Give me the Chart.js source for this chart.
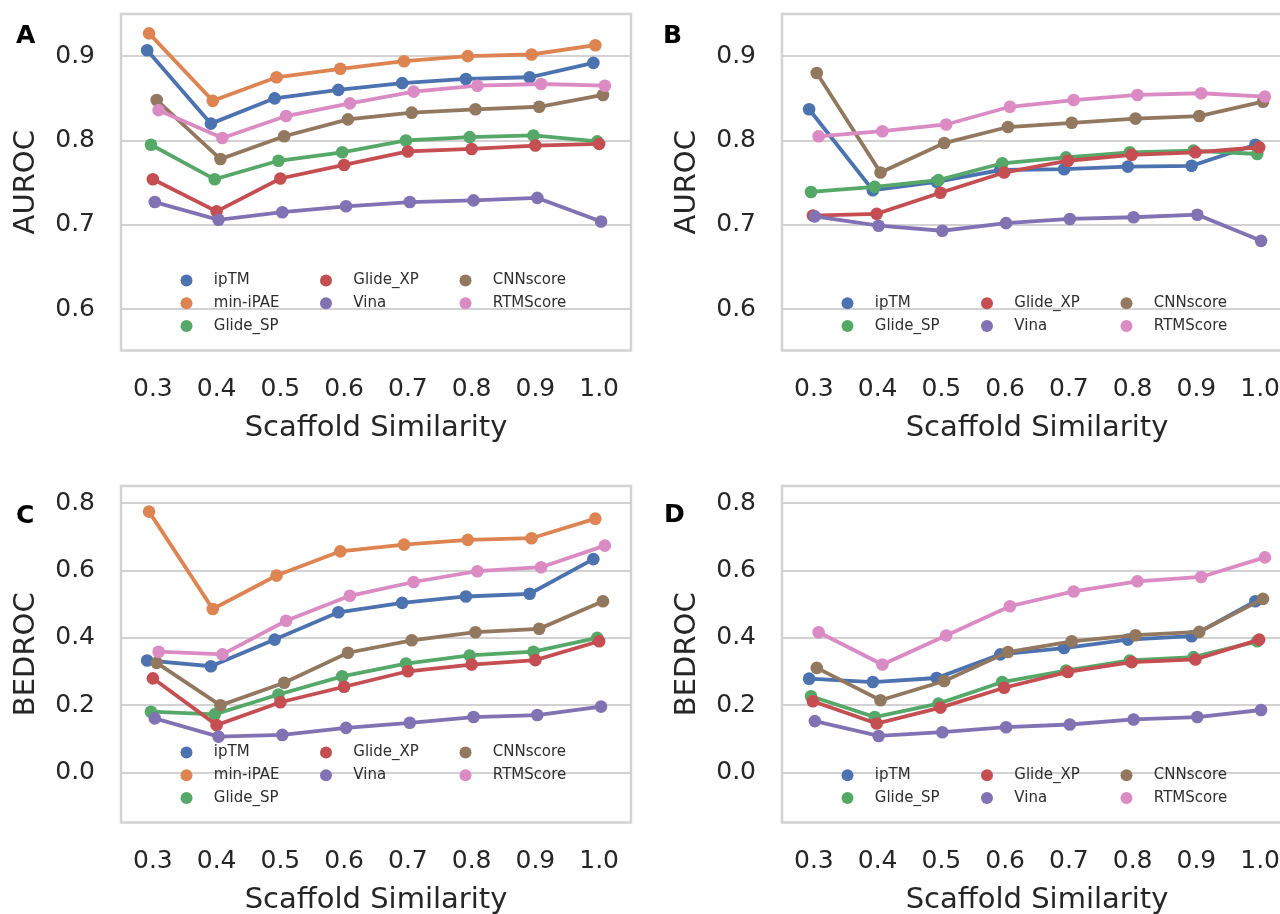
<!DOCTYPE html>
<html>
<head>
<meta charset="utf-8">
<script src="https://cdn.jsdelivr.net/npm/chart.js@4.4.1/dist/chart.umd.min.js"></script>
<style>
    html, body { margin: 0; padding: 0; background: #fff; }
    body { width: 1280px; height: 914px; overflow: hidden; position: relative; }
    canvas { position: absolute; }
    .tag { position: absolute; font: bold 25px "DejaVu Sans", sans-serif; line-height: 1; color: #000; }
</style>
</head>
<body>
<canvas id="panelA" width="640" height="480" style="left:0;top:0"></canvas>
<canvas id="panelB" width="640" height="480" style="left:661px;top:0"></canvas>
<canvas id="panelC" width="640" height="480" style="left:0;top:472px"></canvas>
<canvas id="panelD" width="640" height="480" style="left:661px;top:472px"></canvas>
<div class="tag" style="left:16px;top:22px">A</div>
<div class="tag" style="left:663px;top:22px">B</div>
<div class="tag" style="left:16px;top:502px">C</div>
<div class="tag" style="left:664px;top:501px">D</div>
<script>
// Data
const similarity = [0.3, 0.4, 0.5, 0.6, 0.7, 0.8, 0.9, 1.0];
const aurocTicks = [0.6, 0.7, 0.8, 0.9];
const bedrocTicks = [0.0, 0.2, 0.4, 0.6, 0.8];

// A - AUROC
const aIpTM     = [0.907, 0.820, 0.850, 0.860, 0.868, 0.873, 0.875, 0.892];
const aMinIPAE  = [0.927, 0.847, 0.875, 0.885, 0.894, 0.900, 0.902, 0.913];
const aGlideSP  = [0.795, 0.754, 0.776, 0.786, 0.800, 0.804, 0.806, 0.799];
const aGlideXP  = [0.754, 0.716, 0.755, 0.771, 0.787, 0.790, 0.794, 0.796];
const aVina     = [0.727, 0.706, 0.715, 0.722, 0.727, 0.729, 0.732, 0.704];
const aCNN      = [0.848, 0.778, 0.805, 0.825, 0.833, 0.837, 0.840, 0.854];
const aRTM      = [0.836, 0.803, 0.829, 0.844, 0.858, 0.865, 0.867, 0.865];

// B - AUROC
const bIpTM     = [0.837, 0.741, 0.751, 0.765, 0.766, 0.769, 0.770, 0.795];
const bGlideSP  = [0.739, 0.745, 0.753, 0.773, 0.780, 0.786, 0.788, 0.784];
const bGlideXP  = [0.711, 0.713, 0.738, 0.762, 0.776, 0.783, 0.786, 0.792];
const bVina     = [0.710, 0.699, 0.693, 0.702, 0.707, 0.709, 0.712, 0.681];
const bCNN      = [0.880, 0.762, 0.797, 0.816, 0.821, 0.826, 0.829, 0.846];
const bRTM      = [0.805, 0.811, 0.819, 0.840, 0.848, 0.854, 0.856, 0.852];

// C - BEDROC
const cIpTM     = [0.333, 0.316, 0.395, 0.476, 0.504, 0.523, 0.531, 0.634];
const cMinIPAE  = [0.775, 0.486, 0.585, 0.657, 0.677, 0.691, 0.696, 0.754];
const cGlideSP  = [0.181, 0.173, 0.232, 0.286, 0.324, 0.348, 0.359, 0.400];
const cGlideXP  = [0.280, 0.141, 0.209, 0.255, 0.301, 0.321, 0.334, 0.390];
const cVina     = [0.161, 0.107, 0.112, 0.133, 0.148, 0.165, 0.171, 0.196];
const cCNN      = [0.326, 0.200, 0.267, 0.356, 0.393, 0.417, 0.427, 0.509];
const cRTM      = [0.359, 0.351, 0.451, 0.525, 0.566, 0.598, 0.610, 0.674];

// D - BEDROC
const dIpTM     = [0.279, 0.269, 0.281, 0.351, 0.370, 0.395, 0.405, 0.509];
const dGlideSP  = [0.227, 0.165, 0.205, 0.269, 0.303, 0.333, 0.343, 0.390];
const dGlideXP  = [0.212, 0.146, 0.193, 0.252, 0.299, 0.328, 0.336, 0.395];
const dVina     = [0.153, 0.109, 0.120, 0.135, 0.143, 0.158, 0.165, 0.186];
const dCNN      = [0.311, 0.215, 0.272, 0.358, 0.390, 0.408, 0.418, 0.516];
const dRTM      = [0.417, 0.321, 0.407, 0.494, 0.538, 0.568, 0.581, 0.639];

const colors = {
    'ipTM': '#4C72B0', 'min-iPAE': '#DD8452', 'Glide_SP': '#55A868', 'Glide_XP': '#C44E52',
    'Vina': '#8172B3', 'CNNscore': '#937860', 'RTMScore': '#DA8BC3'
};

Chart.defaults.font.family = '"DejaVu Sans", sans-serif';
Chart.defaults.color = '#262626';

// light grey frame around the plot area
const frame = {
    id: 'frame',
    beforeDatasetsDraw(chart) {
        const { ctx, chartArea: a } = chart;
        ctx.save();
        ctx.strokeStyle = '#d2d2d2';
        ctx.lineWidth = 2.5;
        ctx.strokeRect(a.left, a.top, a.right - a.left, a.bottom - a.top);
        ctx.restore();
    }
};

// matplotlib-like legend: 3 columns filled column by column, first columns get the extras
const dotLegend = {
    id: 'dotLegend',
    afterDatasetsDraw(chart) {
        const { ctx, chartArea: a } = chart;
        const sets = chart.data.datasets;
        const cols = 3;
        const base = Math.floor(sets.length / cols), extra = sets.length % cols;
        const rows = Math.ceil(sets.length / cols);
        ctx.save();
        ctx.font = '15px "DejaVu Sans"';
        ctx.textBaseline = 'middle';
        let k = 0;
        for (let c = 0; c < cols; c++) {
            const count = base + (c < extra ? 1 : 0);
            for (let r = 0; r < count; r++, k++) {
                const ds = sets[k];
                const x = a.left + 65.5 + c * 139.5;
                const y = a.top + 312 - (rows - 1 - r) * 22.7;
                ctx.fillStyle = ds.borderColor;
                ctx.beginPath();
                ctx.arc(x, y, 6, 0, Math.PI * 2);
                ctx.fill();
                ctx.fillStyle = '#2e2e2e';
                ctx.fillText(ds.label, x + 27.3, y);
            }
        }
        ctx.restore();
    }
};

function makePanel(id, yTitle, yMin, yMax, yTicks, series) {
    const n = series.length;
    const datasets = series.map(([label, values], i) => {
        const shift = (i - (n - 1) / 2) * 0.003;
        return {
            label,
            data: values.map((v, k) => ({ x: similarity[k] + shift, y: v })),
            borderColor: colors[label],
            backgroundColor: colors[label],
            borderWidth: 3.8,
            pointRadius: 6.3,
            pointBorderWidth: 0,
            pointHoverRadius: 6.3,
            order: n - i,
            clip: false
        };
    });
    new Chart(document.getElementById(id), {
        type: 'line',
        data: { datasets },
        plugins: [frame, dotLegend],
        options: {
            responsive: false,
            animation: false,
            layout: { padding: { top: 14, right: 9, left: 0, bottom: 0 } },
            plugins: { legend: { display: false }, tooltip: { enabled: false } },
            scales: {
                x: {
                    type: 'linear',
                    min: 0.25,
                    max: 1.05,
                    afterBuildTicks: s => { s.ticks = similarity.map(v => ({ value: v })); },
                    afterFit: s => { s.height = 129.5; s.paddingLeft = 0; s.paddingRight = 0; },
                    grid: { display: false, drawTicks: false },
                    border: { display: false },
                    ticks: {
                        autoSkip: false, maxRotation: 0, padding: 23.5,
                        font: { size: 25 },
                        callback: v => Number(v).toFixed(1)
                    },
                    title: {
                        display: true, text: 'Scaffold Similarity',
                        font: { size: 29 }, padding: { top: 0, bottom: 34.6 }
                    }
                },
                y: {
                    min: yMin,
                    max: yMax,
                    afterBuildTicks: s => { s.ticks = yTicks.map(v => ({ value: v })); },
                    afterFit: s => { s.width = 121; s.paddingTop = 0; s.paddingBottom = 0; },
                    grid: { color: '#d2d2d2', lineWidth: 2, drawTicks: false },
                    border: { display: false },
                    ticks: {
                        padding: 26, font: { size: 25 },
                        callback: v => Number(v).toFixed(1)
                    },
                    title: {
                        display: true, text: yTitle,
                        font: { size: 29 }, padding: { top: 9, bottom: 0 }
                    }
                }
            }
        }
    });
}

makePanel('panelA', 'AUROC', 0.551, 0.950, aurocTicks, [
    ['ipTM', aIpTM], ['min-iPAE', aMinIPAE], ['Glide_SP', aGlideSP], ['Glide_XP', aGlideXP],
    ['Vina', aVina], ['CNNscore', aCNN], ['RTMScore', aRTM]
]);
makePanel('panelB', 'AUROC', 0.551, 0.950, aurocTicks, [
    ['ipTM', bIpTM], ['Glide_SP', bGlideSP], ['Glide_XP', bGlideXP],
    ['Vina', bVina], ['CNNscore', bCNN], ['RTMScore', bRTM]
]);
makePanel('panelC', 'BEDROC', -0.148, 0.851, bedrocTicks, [
    ['ipTM', cIpTM], ['min-iPAE', cMinIPAE], ['Glide_SP', cGlideSP], ['Glide_XP', cGlideXP],
    ['Vina', cVina], ['CNNscore', cCNN], ['RTMScore', cRTM]
]);
makePanel('panelD', 'BEDROC', -0.148, 0.851, bedrocTicks, [
    ['ipTM', dIpTM], ['Glide_SP', dGlideSP], ['Glide_XP', dGlideXP],
    ['Vina', dVina], ['CNNscore', dCNN], ['RTMScore', dRTM]
]);
</script>
</body>
</html>
